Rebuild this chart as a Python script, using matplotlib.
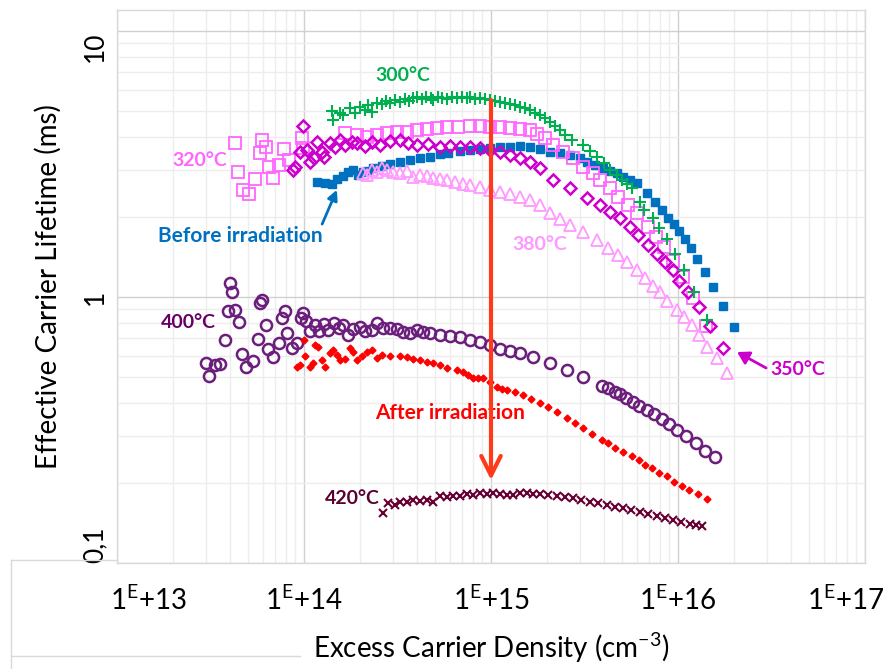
import matplotlib
matplotlib.use('Agg')
import matplotlib.pyplot as plt
from matplotlib.lines import Line2D
from matplotlib.ticker import FixedLocator, LogLocator, NullFormatter

plt.rcParams['font.family'] = ['Lato', 'DejaVu Sans']
plt.rcParams['mathtext.fontset'] = 'custom'
plt.rcParams['mathtext.rm'] = 'Lato'
plt.rcParams['mathtext.it'] = 'Lato:italic'

# Before irradiation (blue filled squares)
n_before = [1.17e14, 1.30e14, 1.41e14, 1.50e14, 1.62e14, 1.72e14, 1.83e14, 1.95e14, 2.07e14, 2.20e14,
            2.34e14, 2.61e14, 2.88e14, 3.26e14, 3.69e14, 4.17e14, 4.72e14, 5.34e14, 5.89e14, 6.83e14,
            7.73e14, 8.73e14, 9.88e14, 1.12e15, 1.26e15, 1.43e15, 1.62e15, 1.83e15, 2.07e15, 2.34e15,
            2.64e15, 2.99e15, 3.26e15, 3.60e15, 3.97e15, 4.33e15, 4.72e15, 5.08e15, 5.54e15, 6.04e15,
            6.83e15, 7.53e15, 8.21e15, 8.85e15, 9.53e15, 1.01e16, 1.09e16, 1.17e16, 1.26e16, 1.39e16,
            1.54e16, 1.74e16, 1.99e16]
tau_before = [2.71, 2.68, 2.66, 2.78, 2.85, 2.95, 3.00, 2.87, 2.95, 2.98,
              3.05, 3.11, 3.16, 3.22, 3.27, 3.33, 3.36, 3.45, 3.48, 3.54,
              3.57, 3.60, 3.63, 3.66, 3.66, 3.70, 3.66, 3.60, 3.51, 3.48,
              3.42, 3.33, 3.22, 3.14, 3.05, 2.98, 2.92, 2.83, 2.75, 2.68,
              2.46, 2.28, 2.12, 1.98, 1.88, 1.77, 1.65, 1.53, 1.39, 1.24,
              1.09, 0.925, 0.771]

# 300 C (green +)
n_300 = [1.41e14, 1.43e14, 1.56e14, 1.62e14, 1.76e14, 1.87e14, 1.99e14, 2.12e14, 2.20e14, 2.31e14,
         2.45e14, 2.60e14, 2.75e14, 2.90e14, 3.05e14, 3.26e14, 3.45e14, 3.65e14, 3.85e14, 4.02e14,
         4.25e14, 4.50e14, 4.75e14, 4.90e14, 5.20e14, 5.50e14, 5.82e14, 6.20e14, 6.60e14, 7.00e14,
         7.40e14, 7.73e14, 8.20e14, 8.70e14, 9.30e14, 9.90e14, 1.05e15, 1.12e15, 1.19e15, 1.26e15,
         1.34e15, 1.43e15, 1.52e15, 1.62e15, 1.72e15, 1.83e15, 1.95e15, 2.07e15, 2.20e15, 2.34e15,
         2.50e15, 2.70e15, 3.10e15, 3.40e15, 3.69e15, 4.00e15, 4.33e15, 4.70e15, 5.02e15, 5.35e15,
         5.68e15, 6.27e15, 6.58e15, 7.35e15, 7.91e15, 8.73e15, 9.64e15, 1.08e16, 1.22e16, 1.43e16]
tau_300 = [5.00, 4.63, 4.92, 4.83, 5.14, 4.92, 5.18, 5.05, 5.27, 4.96,
           5.36, 5.32, 5.45, 5.36, 5.50, 5.41, 5.55, 5.45, 5.60, 5.65,
           5.55, 5.65, 5.60, 5.50, 5.65, 5.60, 5.55, 5.65, 5.60, 5.65,
           5.60, 5.65, 5.55, 5.60, 5.55, 5.50, 5.45, 5.41, 5.36, 5.32,
           5.27, 5.18, 5.14, 5.05, 4.92, 4.83, 4.71, 4.55, 4.39, 4.25,
           4.06, 3.89, 3.73, 3.54, 3.36, 3.19, 3.00, 2.87, 2.75, 2.66,
           2.57, 2.28, 2.12, 1.98, 1.82, 1.65, 1.45, 1.26, 1.04, 0.820]

# 320 C (pink open squares)
n_320 = [4.28e13, 4.44e13, 4.72e13, 5.08e13, 5.47e13, 5.82e13, 5.96e13, 6.26e13, 6.50e13, 6.83e13,
         7.35e13, 7.81e13, 8.32e13, 9.75e13, 9.90e13, 1.66e14, 1.92e14, 2.17e14, 2.45e14, 2.78e14,
         3.14e14, 3.56e14, 4.02e14, 4.55e14, 5.14e14, 5.82e14, 6.67e14, 7.73e14, 8.73e14, 9.88e14,
         1.12e15, 1.26e15, 1.43e15, 1.62e15, 1.76e15, 1.95e15, 2.15e15, 2.43e15, 2.75e15, 3.10e15,
         3.51e15, 3.83e15, 4.33e15, 4.78e15, 5.40e15, 6.04e15, 6.92e15, 7.63e15, 8.42e15, 9.40e15,
         1.07e16, 1.20e16, 1.41e16]
tau_320 = [3.79, 2.95, 2.53, 2.44, 2.78, 3.48, 3.89, 3.66, 3.08, 2.80,
           3.14, 3.60, 3.27, 3.96, 3.63, 4.14, 4.06, 4.00, 4.06, 4.14,
           4.17, 4.17, 4.25, 4.28, 4.32, 4.36, 4.36, 4.39, 4.39, 4.36,
           4.36, 4.32, 4.28, 4.25, 4.10, 3.96, 3.73, 3.51, 3.33, 3.08,
           2.92, 2.75, 2.57, 2.38, 2.22, 2.07, 1.83, 1.68, 1.54, 1.37,
           1.19, 0.99, 0.778]

# 350 C (magenta open diamonds)
n_350 = [8.73e13, 8.96e13, 9.53e13, 9.88e13, 1.04e14, 1.08e14, 1.13e14, 1.17e14, 1.25e14, 1.28e14,
         1.38e14, 1.47e14, 1.56e14, 1.66e14, 1.81e14, 1.92e14, 2.12e14, 2.31e14, 2.55e14, 2.88e14,
         3.26e14, 3.60e14, 4.02e14, 4.60e14, 5.34e14, 6.04e14, 6.83e14, 7.73e14, 8.73e14, 9.88e14,
         1.12e15, 1.26e15, 1.43e15, 1.62e15, 1.83e15, 2.15e15, 2.64e15, 3.26e15, 3.83e15, 4.33e15,
         4.90e15, 5.54e15, 6.11e15, 6.92e15, 7.73e15, 8.52e15, 9.40e15, 1.01e16, 1.13e16, 1.29e16,
         1.48e16, 1.74e16]
tau_350 = [3.00, 3.08, 3.51, 4.39, 3.57, 3.22, 3.33, 3.83, 3.51, 3.36,
           3.79, 3.66, 3.89, 3.73, 3.83, 3.79, 3.70, 3.83, 3.73, 3.86,
           3.89, 3.79, 3.73, 3.76, 3.66, 3.70, 3.66, 3.66, 3.63, 3.57,
           3.51, 3.42, 3.33, 3.22, 3.05, 2.75, 2.57, 2.36, 2.22, 2.09,
           1.98, 1.83, 1.71, 1.57, 1.45, 1.35, 1.26, 1.15, 1.04, 0.917,
           0.778, 0.643]

# 380 C (light pink open triangles)
n_380 = [2.07e14, 2.17e14, 2.31e14, 2.45e14, 2.61e14, 2.78e14, 2.99e14, 3.26e14, 3.56e14, 3.83e14,
         4.17e14, 4.55e14, 4.90e14, 5.34e14, 5.82e14, 6.41e14, 7.08e14, 7.73e14, 8.73e14, 9.88e14,
         1.12e15, 1.26e15, 1.43e15, 1.62e15, 1.83e15, 2.07e15, 2.34e15, 2.64e15, 3.10e15, 3.69e15,
         4.23e15, 4.78e15, 5.34e15, 6.04e15, 6.67e15, 7.35e15, 8.02e15, 8.73e15, 9.88e15, 1.08e16,
         1.19e16, 1.29e16, 1.43e16, 1.62e16, 1.83e16]
tau_380 = [2.92, 2.87, 3.00, 2.95, 3.05, 3.00, 2.95, 2.92, 2.98, 2.83,
           2.87, 2.85, 2.80, 2.78, 2.75, 2.71, 2.66, 2.64, 2.59, 2.53,
           2.48, 2.44, 2.38, 2.32, 2.22, 2.07, 1.96, 1.86, 1.76, 1.64,
           1.53, 1.44, 1.35, 1.26, 1.18, 1.10, 1.04, 0.966, 0.894, 0.841,
           0.785, 0.720, 0.649, 0.590, 0.518]

# 400 C (dark purple open circles)
n_400 = [2.99e13, 3.10e13, 3.34e13, 3.56e13, 3.78e13, 3.93e13, 4.02e13, 4.12e13, 4.28e13, 4.49e13,
         4.66e13, 4.90e13, 5.33e13, 5.67e13, 5.82e13, 5.96e13, 6.26e13, 6.41e13, 6.83e13, 7.35e13,
         7.62e13, 7.91e13, 8.11e13, 8.63e13, 9.18e13, 9.64e13, 9.88e13, 1.03e14, 1.08e14, 1.15e14,
         1.20e14, 1.28e14, 1.34e14, 1.45e14, 1.54e14, 1.62e14, 1.72e14, 1.83e14, 1.99e14, 2.12e14,
         2.31e14, 2.46e14, 2.64e14, 2.88e14, 3.14e14, 3.38e14, 3.69e14, 4.02e14, 4.33e14, 4.72e14,
         5.34e14, 6.04e14, 6.83e14, 7.73e14, 8.73e14, 9.88e14, 1.12e15, 1.26e15, 1.43e15, 1.68e15,
         2.07e15, 2.55e15, 3.10e15, 3.93e15, 4.23e15, 4.60e15, 4.90e15, 5.27e15, 5.74e15, 6.18e15,
         6.82e15, 7.44e15, 8.21e15, 8.95e15, 9.88e15, 1.10e16, 1.25e16, 1.39e16, 1.58e16]
tau_400 = [0.565, 0.505, 0.555, 0.560, 0.689, 0.886, 1.13, 1.04, 0.894, 0.805,
           0.611, 0.546, 0.575, 0.695, 0.949, 0.975, 0.785, 0.638, 0.595, 0.671,
           0.834, 0.886, 0.732, 0.643, 0.671, 0.834, 0.871, 0.812, 0.745, 0.785,
           0.745, 0.791, 0.751, 0.798, 0.765, 0.785, 0.720, 0.758, 0.771, 0.745,
           0.751, 0.798, 0.765, 0.765, 0.758, 0.739, 0.732, 0.751, 0.739, 0.732,
           0.720, 0.714, 0.708, 0.689, 0.677, 0.660, 0.638, 0.627, 0.616, 0.595,
           0.565, 0.532, 0.500, 0.463, 0.455, 0.440, 0.432, 0.417, 0.403, 0.389,
           0.376, 0.363, 0.348, 0.333, 0.316, 0.300, 0.283, 0.264, 0.250]

# After irradiation (red filled diamonds)
n_after = [9.18e13, 9.53e13, 1.00e14, 1.01e14, 1.08e14, 1.12e14, 1.15e14, 1.19e14, 1.25e14, 1.30e14,
           1.38e14, 1.43e14, 1.50e14, 1.56e14, 1.66e14, 1.76e14, 1.83e14, 1.92e14, 2.04e14, 2.17e14,
           2.31e14, 2.46e14, 2.61e14, 2.88e14, 3.26e14, 3.56e14, 3.83e14, 4.17e14, 4.55e14, 4.90e14,
           5.34e14, 5.82e14, 6.58e14, 7.08e14, 7.53e14, 8.02e14, 8.52e14, 9.06e14, 9.88e14, 1.08e15,
           1.15e15, 1.22e15, 1.34e15, 1.48e15, 1.64e15, 1.83e15, 2.02e15, 2.25e15, 2.55e15, 2.81e15,
           3.10e15, 3.47e15, 3.93e15, 4.23e15, 4.60e15, 5.08e15, 5.68e15, 6.18e15, 6.67e15, 7.26e15,
           7.91e15, 8.73e15, 9.53e15, 1.05e16, 1.14e16, 1.28e16, 1.43e16]
tau_after = [0.546, 0.555, 0.689, 0.600, 0.546, 0.565, 0.660, 0.649, 0.580, 0.546,
             0.616, 0.632, 0.605, 0.580, 0.585, 0.643, 0.621, 0.580, 0.600, 0.621,
             0.632, 0.590, 0.605, 0.600, 0.600, 0.595, 0.585, 0.580, 0.570, 0.565,
             0.555, 0.541, 0.532, 0.523, 0.509, 0.496, 0.496, 0.496, 0.479, 0.459,
             0.451, 0.447, 0.440, 0.428, 0.414, 0.400, 0.386, 0.370, 0.351, 0.336,
             0.322, 0.305, 0.290, 0.283, 0.271, 0.261, 0.252, 0.244, 0.234, 0.228,
             0.218, 0.212, 0.202, 0.195, 0.188, 0.182, 0.174]

# 420 C (maroon x)
n_420 = [2.64e14, 2.81e14, 3.07e14, 3.26e14, 3.56e14, 3.83e14, 4.17e14, 4.55e14, 4.90e14, 5.34e14,
         5.82e14, 6.26e14, 6.83e14, 7.44e14, 8.02e14, 8.73e14, 9.53e14, 1.03e15, 1.12e15, 1.22e15,
         1.31e15, 1.43e15, 1.56e15, 1.68e15, 1.83e15, 2.02e15, 2.25e15, 2.49e15, 2.75e15, 3.03e15,
         3.38e15, 3.73e15, 4.17e15, 4.60e15, 5.08e15, 5.61e15, 6.27e15, 6.92e15, 7.73e15, 8.52e15,
         9.40e15, 1.04e16, 1.16e16, 1.25e16, 1.34e16]
tau_420 = [0.154, 0.168, 0.165, 0.169, 0.169, 0.172, 0.171, 0.172, 0.169, 0.179,
           0.177, 0.179, 0.179, 0.182, 0.180, 0.183, 0.182, 0.183, 0.182, 0.180,
           0.180, 0.183, 0.183, 0.182, 0.182, 0.180, 0.179, 0.177, 0.175, 0.172,
           0.169, 0.168, 0.165, 0.163, 0.161, 0.158, 0.155, 0.153, 0.150, 0.148,
           0.145, 0.143, 0.140, 0.139, 0.138]

x_tick_labels = [r'1$^{\mathrm{E}}$+13', r'1$^{\mathrm{E}}$+14', r'1$^{\mathrm{E}}$+15',
                 r'1$^{\mathrm{E}}$+16', r'1$^{\mathrm{E}}$+17']
y_tick_labels = ['0,1', '1', '10']

fig = plt.figure(figsize=(8.93, 6.69), dpi=100)
ax = fig.add_axes([117 / 893, 106 / 669, 748 / 893, 553 / 669])

ax.set_xscale('log')
ax.set_yscale('log')
ax.set_xlim(1e13, 1e17)
ax.set_ylim(0.1, 12.0)

ax.plot(n_before, tau_before, 's', color='#0070C0', ms=6, mec='#0070C0', ls='none')
ax.plot(n_320, tau_320, 's', color='#FF66FF', ms=8, mfc='none', mew=1.3, ls='none')
ax.plot(n_350, tau_350, 'D', color='#CC00CC', ms=6, mfc='none', mew=1.8, ls='none')
ax.plot(n_380, tau_380, '^', color='#FF99FF', ms=8, mfc='none', mew=1.3, ls='none')
ax.plot(n_300, tau_300, '+', color='#00B050', ms=8, mew=1.5, ls='none')
ax.plot(n_400, tau_400, 'o', color='#6B1E7B', ms=8, mfc='none', mew=1.8, ls='none')
ax.plot(n_after, tau_after, 'D', color='#FF0000', ms=3.5, ls='none')
ax.plot(n_420, tau_420, 'x', color='#660033', ms=6, mew=1.5, ls='none')

# grid
ax.xaxis.set_major_locator(FixedLocator([1e13, 1e14, 1e15, 1e16, 1e17]))
ax.xaxis.set_minor_locator(LogLocator(base=10, subs=range(2, 10), numticks=20))
ax.yaxis.set_major_locator(FixedLocator([0.1, 1, 10]))
ax.yaxis.set_minor_locator(LogLocator(base=10, subs=range(2, 10), numticks=20))
ax.xaxis.set_minor_formatter(NullFormatter())
ax.yaxis.set_minor_formatter(NullFormatter())
ax.xaxis.set_major_formatter(NullFormatter())
ax.yaxis.set_major_formatter(NullFormatter())
ax.grid(which='major', color='#D0D0D0', lw=1.0)
ax.grid(which='minor', color='#EDEDED', lw=1.0)
ax.set_axisbelow(True)
for s in ax.spines.values():
    s.set_color('#D9D9D9')
    s.set_linewidth(1.0)
ax.tick_params(which='both', length=0)

# tick labels, edge ones pulled inward like the original
x_label_pos = [1.47e13, 1e14, 1e15, 1e16, 7.9e16]
for xp, lab in zip(x_label_pos, x_tick_labels):
    ax.text(xp, -0.067, lab, transform=ax.get_xaxis_transform(), fontsize=20,
            ha='center', va='center')
y_label_pos = [0.117, 1.0, 8.71]
for yp, lab in zip(y_label_pos, y_tick_labels):
    ax.text(-0.0294, yp, lab, transform=ax.get_yaxis_transform(), fontsize=19,
            rotation=90, ha='center', va='center')

ax.set_xlabel(r'Excess Carrier Density (cm$^{-3}$)', fontsize=20, labelpad=45)
ax.set_ylabel('Effective Carrier Lifetime (ms)', fontsize=20, labelpad=36)

# labels
ax.text(3.38e14, 6.78, '300°C', color='#00B050', fontsize=14, fontweight='bold', ha='center', va='center')
ax.text(2.78e13, 3.27, '320°C', color='#FF66FF', fontsize=14, fontweight='bold', ha='center', va='center')
ax.text(4.55e13, 1.70, 'Before irradiation', color='#0070C0', fontsize=15, fontweight='bold',
        ha='center', va='center')
ax.text(1.83e15, 1.57, '380°C', color='#FF99FF', fontsize=14, fontweight='bold', ha='center', va='center')
ax.text(2.40e13, 0.805, '400°C', color='#660066', fontsize=14, fontweight='bold', ha='center', va='center')
ax.text(6.04e14, 0.366, 'After irradiation', color='#FF0000', fontsize=15, fontweight='bold',
        ha='center', va='center')
ax.text(1.81e14, 0.175, '420°C', color='#5A0030', fontsize=14, fontweight='bold', ha='center', va='center')
ax.text(4.38e16, 0.536, '350°C', color='#CC00CC', fontsize=14, fontweight='bold', ha='center', va='center')

# arrows
ax.annotate('', xy=(1e15, 0.205), xytext=(1e15, 5.5),
            arrowprops=dict(arrowstyle='->,head_length=0.7,head_width=0.35', color='#FF3A1A', lw=3,
                            mutation_scale=20, shrinkA=0, shrinkB=0))
ax.annotate('', xy=(1.50e14, 2.53), xytext=(1.25e14, 1.88),
            arrowprops=dict(arrowstyle='-|>,head_length=0.5,head_width=0.25', color='#0070C0', lw=2,
                            mutation_scale=12, shrinkA=0, shrinkB=0))
ax.annotate('', xy=(2.07e16, 0.621), xytext=(2.96e16, 0.541),
            arrowprops=dict(arrowstyle='-|>,head_length=0.5,head_width=0.3', color='#CC00CC', lw=2,
                            mutation_scale=14, shrinkA=0, shrinkB=0))

# frame around the lower-left area
fig.add_artist(Line2D([11 / 893, 117 / 893], [1 - 560 / 669, 1 - 560 / 669], color='#D9D9D9', lw=1))
fig.add_artist(Line2D([11 / 893, 11 / 893], [1 - 560 / 669, 0.0], color='#D9D9D9', lw=1))
fig.add_artist(Line2D([11 / 893, 300 / 893], [1 - 656 / 669, 1 - 656 / 669], color='#D9D9D9', lw=1))

fig.savefig('out.png', dpi=100)
